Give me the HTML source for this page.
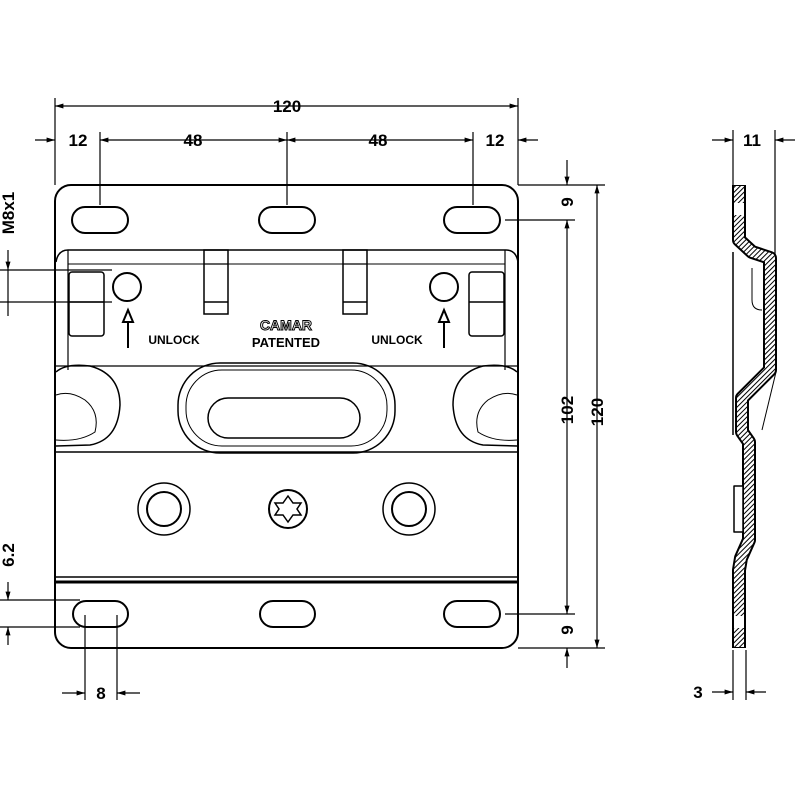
<!DOCTYPE html>
<html><head><style>body{margin:0;background:#fff}svg{display:block}</style></head><body>
<svg width="800" height="800" viewBox="0 0 800 800" xmlns="http://www.w3.org/2000/svg" font-family="Liberation Sans, sans-serif" font-weight="bold">
<defs>
<pattern id="h" width="3.5" height="3.5" patternUnits="userSpaceOnUse" patternTransform="rotate(45)"><rect width="4" height="4" fill="#fff"/><line x1="0" y1="0" x2="0" y2="4" stroke="#000" stroke-width="2"/></pattern>
<marker id="a" viewBox="0 0 10 10" refX="10" refY="5" markerWidth="7" markerHeight="7" orient="auto-start-reverse"><path d="M0,2 L10,5 L0,8z" fill="#000"/></marker>
</defs>
<g fill="none" stroke="#000" stroke-width="2">
<rect x="55" y="185" width="463" height="463" rx="16"/>
<rect x="72" y="207" width="56" height="26" rx="13"/>
<rect x="259" y="207" width="56" height="26" rx="13"/>
<rect x="444" y="207" width="56" height="26" rx="13"/>
<rect x="73" y="601" width="55" height="26" rx="13"/>
<rect x="260" y="601" width="55" height="26" rx="13"/>
<rect x="444" y="601" width="56" height="26" rx="13"/>
<line x1="55" y1="577" x2="518" y2="577" stroke-width="1.5"/>
<line x1="55" y1="582" x2="518" y2="582" stroke-width="3"/>
<path d="M56,262 Q58,250 68,250 L506,250 Q516,250 518,262" stroke-width="1.5"/>
<line x1="68" y1="250" x2="68" y2="370" stroke-width="1.2"/>
<line x1="505" y1="250" x2="505" y2="370" stroke-width="1.2"/>
<line x1="68" y1="264" x2="505" y2="264" stroke-width="1"/>
<rect x="69" y="272" width="35" height="64" rx="3" stroke-width="1.5"/>
<line x1="69" y1="302" x2="104" y2="302" stroke-width="1.5"/>
<rect x="469" y="272" width="35" height="64" rx="3" stroke-width="1.5"/>
<line x1="469" y1="302" x2="504" y2="302" stroke-width="1.5"/>
<circle cx="127" cy="287" r="14"/>
<circle cx="444" cy="287" r="14"/>
<rect x="204" y="250" width="24" height="64" stroke-width="1.5"/>
<line x1="204" y1="264" x2="228" y2="264" stroke-width="1.2"/><line x1="204" y1="302" x2="228" y2="302" stroke-width="1.5"/>
<rect x="343" y="250" width="24" height="64" stroke-width="1.5"/>
<line x1="343" y1="264" x2="367" y2="264" stroke-width="1.2"/><line x1="343" y1="302" x2="367" y2="302" stroke-width="1.5"/>
<line x1="128" y1="348" x2="128" y2="314"/><path d="M123,322 L128,310 L133,322z" fill="#fff"/>
<line x1="444" y1="348" x2="444" y2="314"/><path d="M439,322 L444,310 L449,322z" fill="#fff"/>
<line x1="55" y1="366" x2="518" y2="366" stroke-width="1.2"/>
<line x1="55" y1="452" x2="518" y2="452" stroke-width="1.5"/>
<rect x="178" y="363" width="217" height="90" rx="42" stroke-width="1.5"/>
<rect x="186" y="370" width="201" height="76" rx="36" stroke-width="1"/>
<rect x="208" y="398" width="152" height="40" rx="20" stroke-width="1.5"/>
<path d="M56,372 Q66,363 90,366 Q120,374 120,405 Q118,440 90,445 L56,446" stroke-width="1.5"/>
<path d="M56,395 Q70,390 85,400 Q100,412 95,432 Q80,442 56,440" stroke-width="1"/>
<path d="M517,372 Q507,363 483,366 Q453,374 453,405 Q455,440 483,445 L517,446" stroke-width="1.5"/>
<path d="M517,395 Q503,390 488,400 Q473,412 478,432 Q493,442 517,440" stroke-width="1"/>
<circle cx="164" cy="509" r="26" stroke-width="1.5"/><circle cx="164" cy="509" r="17"/>
<circle cx="409" cy="509" r="26" stroke-width="1.5"/><circle cx="409" cy="509" r="17"/>
<circle cx="288" cy="509" r="19"/>
<path d="M288,496 L293,503 L301,503 L297,509 L301,515 L293,515 L288,522 L283,515 L275,515 L279,509 L275,503 L283,503z" stroke-width="1.5"/>
</g>
<g text-anchor="middle" fill="#000">
<text x="174" y="344" font-size="12">UNLOCK</text>
<text x="397" y="344" font-size="12">UNLOCK</text>
<text x="286" y="330" font-size="14" fill="#fff" stroke="#000" stroke-width="1">CAMAR</text>
<text x="286" y="347" font-size="13">PATENTED</text>
</g>
<g stroke="#000" stroke-width="1.2" fill="none">
<line x1="55" y1="98" x2="55" y2="185"/><line x1="518" y1="98" x2="518" y2="185"/>
<line x1="55" y1="106" x2="518" y2="106" marker-start="url(#a)" marker-end="url(#a)"/>
<line x1="100" y1="132" x2="100" y2="205"/><line x1="287" y1="132" x2="287" y2="205"/><line x1="473" y1="132" x2="473" y2="205"/>
<line x1="35" y1="140" x2="55" y2="140" marker-end="url(#a)"/>
<line x1="100" y1="140" x2="287" y2="140" marker-start="url(#a)" marker-end="url(#a)"/>
<line x1="287" y1="140" x2="473" y2="140" marker-start="url(#a)" marker-end="url(#a)"/>
<line x1="538" y1="140" x2="518" y2="140" marker-end="url(#a)"/>
<line x1="518" y1="185" x2="605" y2="185"/><line x1="505" y1="220" x2="575" y2="220"/>
<line x1="505" y1="614" x2="575" y2="614"/><line x1="518" y1="648" x2="605" y2="648"/>
<line x1="567" y1="160" x2="567" y2="185" marker-end="url(#a)"/>
<line x1="567" y1="220" x2="567" y2="614" marker-start="url(#a)" marker-end="url(#a)"/>
<line x1="567" y1="668" x2="567" y2="648" marker-end="url(#a)"/>
<line x1="597" y1="185" x2="597" y2="648" marker-start="url(#a)" marker-end="url(#a)"/>
<line x1="0" y1="270" x2="112" y2="270"/><line x1="0" y1="302" x2="112" y2="302"/>
<line x1="8" y1="250" x2="8" y2="270" marker-end="url(#a)"/><line x1="8" y1="270" x2="8" y2="316"/>
<line x1="0" y1="600" x2="80" y2="600"/><line x1="0" y1="627" x2="80" y2="627"/>
<line x1="8" y1="582" x2="8" y2="600" marker-end="url(#a)"/><line x1="8" y1="645" x2="8" y2="627" marker-end="url(#a)"/>
<line x1="85" y1="615" x2="85" y2="700"/><line x1="117" y1="615" x2="117" y2="700"/>
<line x1="62" y1="693" x2="85" y2="693" marker-end="url(#a)"/><line x1="140" y1="693" x2="117" y2="693" marker-end="url(#a)"/>
<line x1="733" y1="130" x2="733" y2="185"/><line x1="775" y1="130" x2="775" y2="258"/>
<line x1="712" y1="140" x2="733" y2="140" marker-end="url(#a)"/><line x1="795" y1="140" x2="775" y2="140" marker-end="url(#a)"/>
<line x1="733" y1="650" x2="733" y2="700"/><line x1="746" y1="650" x2="746" y2="700"/>
<line x1="712" y1="692" x2="733" y2="692" marker-end="url(#a)"/><line x1="766" y1="692" x2="746" y2="692" marker-end="url(#a)"/>
</g>
<g fill="#000" font-size="17" text-anchor="middle">
<text x="287" y="112">120</text>
<text x="78" y="146">12</text><text x="193" y="146">48</text><text x="378" y="146">48</text><text x="495" y="146">12</text>
<text x="101" y="699">8</text>
<text x="752" y="146">11</text>
<text x="698" y="698">3</text>
<text transform="translate(573,202) rotate(-90)">9</text>
<text transform="translate(573,630) rotate(-90)">9</text>
<text transform="translate(573,410) rotate(-90)">102</text>
<text transform="translate(603,412) rotate(-90)">120</text>
<text transform="translate(14,213) rotate(-90)">M8x1</text>
<text transform="translate(14,555) rotate(-90)">6.2</text>
</g>
<g fill="none" stroke-linejoin="round">
<path d="M739,185 L739,240 L752,252 L770,258 L770,370 L742,398 L742,432 L749,442 L749,540 L741,558 L739,570 L739,648" stroke="#000" stroke-width="14"/>
<path d="M739,186 L739,240 L752,252 L770,258 L770,370 L742,398 L742,432 L749,442 L749,540 L741,558 L739,570 L739,647" stroke="url(#h)" stroke-width="10"/>
<line x1="733" y1="252" x2="733" y2="435" stroke="#000" stroke-width="1.5"/>
<rect x="734" y="486" width="9" height="46" fill="#fff" stroke="#000" stroke-width="1.5"/>
<path d="M752,268 L752,300 Q752,310 762,310" stroke="#000" stroke-width="1"/>
<line x1="776" y1="372" x2="762" y2="430" stroke="#000" stroke-width="1"/>
<rect x="734" y="203" width="10" height="12" fill="#fff"/>
<rect x="734" y="616" width="10" height="12" fill="#fff"/>
</g>
</svg>
</body></html>
